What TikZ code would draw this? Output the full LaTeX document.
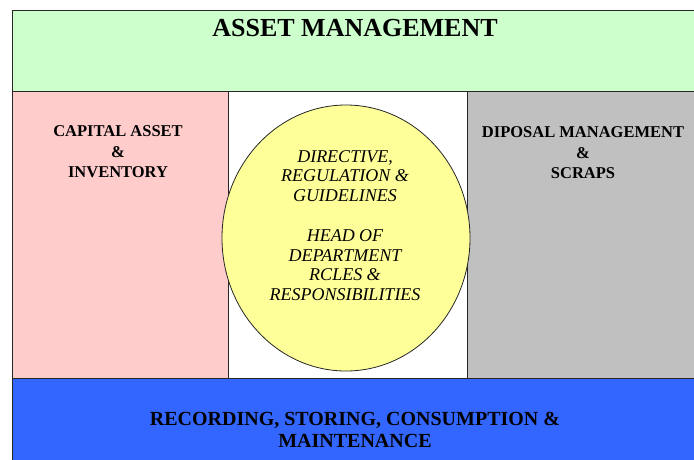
\documentclass[tikz,border=0pt]{standalone}
\usepackage{fontspec}
\setmainfont{Liberation Serif}
\usepackage{tikz}
\definecolor{mint}{RGB}{204,255,204}
\definecolor{rose}{RGB}{255,204,204}
\definecolor{ash}{RGB}{192,192,192}
\definecolor{lemon}{RGB}{255,255,153}
\definecolor{royal}{RGB}{51,102,255}
\tikzset{
  block/.style={draw=black!85, line width=0.8pt},
  title/.style={font=\bfseries\fontsize{26}{28}\selectfont, inner sep=0pt},
  label/.style={font=\bfseries\fontsize{16.5}{20.5}\selectfont, align=center, inner sep=0pt},
  duty/.style={font=\itshape\fontsize{18}{19.5}\selectfont, align=center, inner sep=0pt}
}
\begin{document}
\begin{tikzpicture}[x=1pt,y=-1pt]
\useasboundingbox (0,0) rectangle (694,459);
\clip (0,0) rectangle (694,459);
% the four bands
\draw [block, fill=mint] (12,10) rectangle (704,91);
\draw [block, fill=rose] (12,91) rectangle (228,378);
\draw [block, fill=white] (228,91) rectangle (467,378);
\draw [block, fill=ash] (467,91) rectangle (704,378);
\draw [block, fill=royal] (12,378) rectangle (704,470);
% centre circle
\draw [block, fill=lemon] (346,238) ellipse [x radius=124, y radius=133];
% texts
\node [title] (asset) at (355,28) {ASSET MANAGEMENT};
\node [label] (capital) at (118,152) {CAPITAL ASSET\\\&\\INVENTORY};
\node [label] (disposal) at (583,153) {DIPOSAL MANAGEMENT\\\&\\SCRAPS};
\node [duty] (directive) at (345,176) {DIRECTIVE,\\REGULATION \&\\GUIDELINES};
\node [duty] (head) at (345,265) {HEAD OF\\DEPARTMENT\\RCLES \&\\RESPONSIBILITIES};
\node [label, font=\bfseries\fontsize{20}{22}\selectfont] (record) at (355,430) {RECORDING, STORING, CONSUMPTION \&\\MAINTENANCE};
\end{tikzpicture}
\end{document}
